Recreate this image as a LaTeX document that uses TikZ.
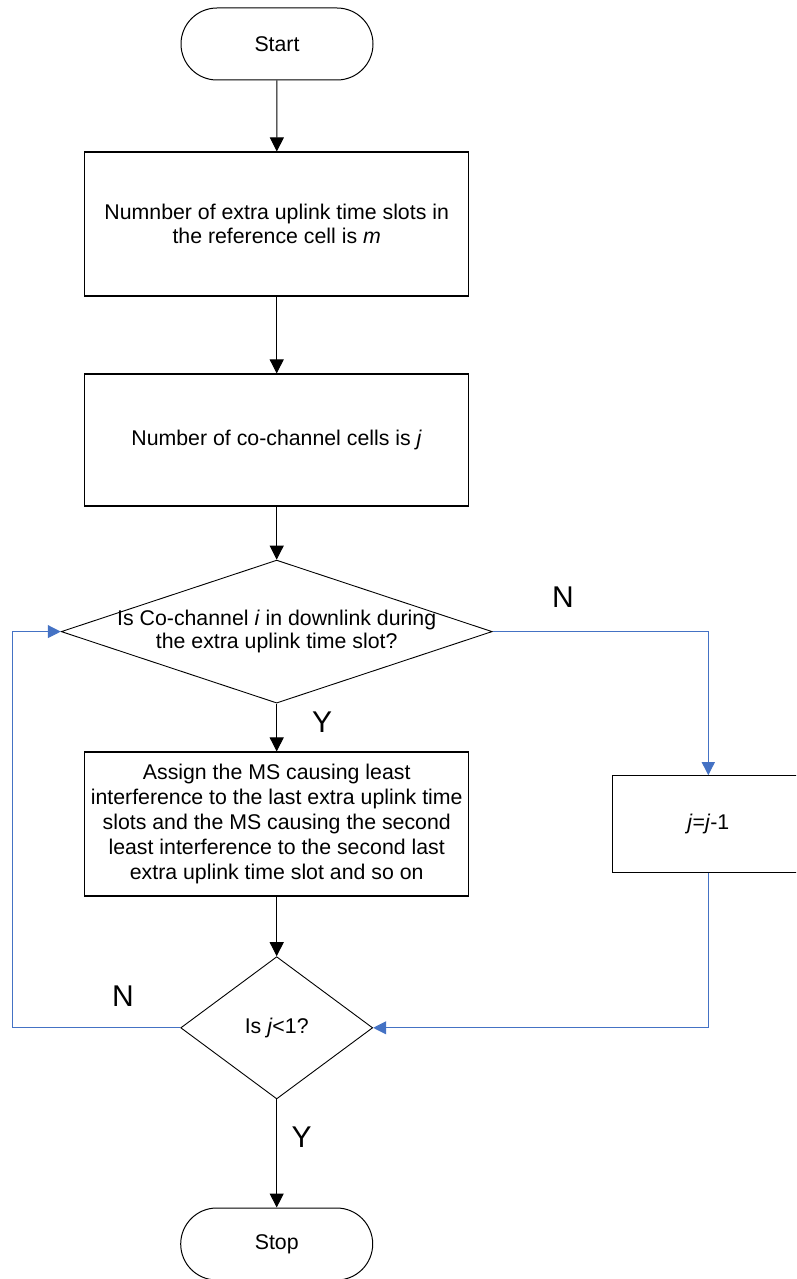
\documentclass[tikz,border=0pt]{standalone}
\usepackage{fontspec}
\setmainfont{Liberation Sans}
\usetikzlibrary{shapes.geometric,arrows.meta}
\definecolor{flowblue}{RGB}{68,114,196}
\begin{document}
\begin{tikzpicture}[x=1pt,y=-1pt,
  every node/.style={font=\fontsize{21.3}{23.5}\selectfont},
  term/.style={draw=black,line width=1pt,rounded corners=36pt,minimum width=192pt,minimum height=72pt,inner sep=0pt},
  procbox/.style={draw=black,line width=1.1pt,inner sep=0pt,align=center},
  decision/.style={draw=black,line width=0.9pt,diamond,inner sep=0pt},
  flow/.style={draw=black,line width=1pt,-{Triangle[length=14pt,width=14pt]}},
  loopflow/.style={draw=flowblue,line width=1pt,-{Triangle[length=13pt,width=13pt]}},
  yn/.style={font=\fontsize{30}{30}\selectfont},
]
\useasboundingbox (0,0) rectangle (796,1279);
\clip (0,0) rectangle (796,1279);

\node[term] (start) at (277,44) {Start};
\node[procbox,minimum width=384pt,minimum height=144pt] (b1) at (276.7,224) {Numnber of extra uplink time slots in\\the reference cell is \textit{m}};
\node[procbox,minimum width=384pt,minimum height=132pt] (b2) at (276.7,440) {Number of co-channel cells is \textit{j}};
\node[decision,minimum width=431pt,minimum height=143pt] (d1) at (276.7,631.6) {};
\node[align=center] (d1t) at (d1.center) {Is Co-channel \textit{i} in downlink during\\the extra uplink time slot?};
\node[procbox,minimum width=384pt,minimum height=144pt,font=\fontsize{21.3}{25.2}\selectfont] (b4) at (276.7,824) {Assign the MS causing least\\interference to the last extra uplink time\\slots and the MS causing the second\\least interference to the second last\\extra uplink time slot and so on};
\node[procbox,minimum width=192pt,minimum height=96.3pt] (b3) at (708.3,823.9) {\textit{j}=\textit{j}-1};
\node[decision,minimum width=192pt,minimum height=142.3pt] (d2) at (276.7,1027.8) {};
\node (d2t) at (d2.center) {Is \textit{j}<1?};
\node[term] (stop) at (276.7,1244) {Stop};

\node[yn] (n1) at (563,597) {N};
\node[yn] (y1) at (322,722) {Y};
\node[yn] (n2) at (123,996) {N};
\node[yn] (y2) at (301.7,1137) {Y};

\coordinate (lp) at (12.7,1027.8);

\draw[flow] (start) -- (b1);
\draw[flow] (b1) -- (b2);
\draw[flow] (b2) -- (d1);
\draw[flow] (d1) -- (b4);
\draw[flow] (b4) -- (d2);
\draw[flow] (d2) -- (stop);
\draw[loopflow] (d1.east) -| (b3.north);
\draw[loopflow] (b3.south) |- (d2.east);
\draw[loopflow] (d2.west) -- (lp) |- (d1.west);
\end{tikzpicture}
\end{document}
